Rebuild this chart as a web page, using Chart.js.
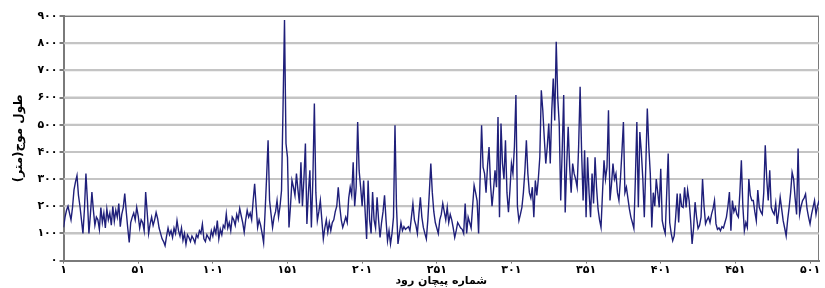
<!DOCTYPE html>
<html>
<head>
<meta charset="utf-8">
<script src="https://cdn.jsdelivr.net/npm/chart.js@4"></script>
<style>
html,body{margin:0;padding:0;background:#fff;}
#wrap{width:825px;height:288px;}
</style>
</head>
<body>
<div id="wrap"><canvas id="c" width="825" height="288"></canvas></div>
<script>
// Meander wavelength (m) for each meander number 1..507
const wavelength = [
122,160,185,200,175,150,195,260,290,313,
240,200,150,100,190,320,220,100,170,252,
185,130,160,150,115,195,140,175,120,190,
150,175,130,200,145,185,160,210,125,170,
195,247,180,120,67,140,160,175,150,196,
165,120,150,140,110,252,180,100,135,160,
130,150,177,155,120,100,80,70,55,90,
120,95,110,85,120,100,147,110,90,120,
75,100,60,95,85,70,90,80,65,95,
85,110,100,134,80,70,95,85,75,110,
90,120,100,147,80,115,95,130,120,172,
120,140,110,160,150,130,170,150,192,165,
140,105,150,185,160,175,150,220,283,200,
122,150,130,100,66,180,306,443,221,170,
122,160,180,221,160,200,258,560,885,431,
380,122,200,295,270,240,320,260,210,362,
200,300,431,135,250,332,122,300,578,250,
147,180,221,150,80,120,150,105,140,110,
140,150,180,200,270,200,150,122,140,160,
140,230,270,240,362,200,270,510,330,270,
200,295,180,80,295,150,100,252,150,120,
233,150,85,140,180,240,150,73,110,61,
100,160,498,200,61,100,140,110,125,115,
120,125,110,160,210,150,130,100,170,233,
160,122,100,80,150,250,357,250,180,140,
120,100,150,170,210,180,150,196,140,170,
150,120,85,110,140,130,120,115,100,210,
100,160,140,120,200,277,250,220,100,300,
498,344,320,250,350,418,280,200,260,332,
270,528,160,504,357,300,443,250,178,260,
357,320,420,609,200,147,170,196,250,330,
443,320,250,230,270,160,295,240,300,380,
627,553,450,357,420,504,357,550,670,516,
805,600,504,221,406,609,177,350,492,344,
250,357,320,300,270,420,640,400,221,406,
160,380,250,160,320,210,380,270,190,150,
122,250,369,300,344,553,221,280,357,300,
320,250,221,300,400,510,250,270,230,190,
160,140,118,300,510,196,473,400,300,160,
350,560,420,320,122,250,200,300,250,196,
338,147,120,100,250,394,140,100,73,91,
160,247,140,247,200,196,270,196,260,221,
150,61,120,215,160,118,130,160,300,200,
135,150,160,140,170,190,221,135,115,120,
110,125,120,140,160,200,252,110,221,180,
196,170,160,250,369,200,110,140,122,300,
240,221,221,180,147,260,196,180,170,250,
424,300,221,332,196,180,170,210,135,180,
233,190,147,120,91,150,196,250,325,300,
230,170,412,170,200,221,230,245,190,160,
135,170,196,221,170,200,221
];
// meander numbers on the x axis start at 1 and step by 50
const firstMeander = 1;
const xTickStep = 50;
const yTickStep = 100;
const yMax = 900;
const gridValues = [100, 200, 300, 400, 500, 600, 700, 800, 900];
const xTitle = 'شماره پیچان رود';
const yTitle = 'طول موج(متر)';

const faDigits = '۰۱۲۳۴۵۶۷۸۹';
const toFa = n => String(n).replace(/\d/g, d => faDigits[+d]);

const xLast = wavelength.length - 1;
// x = zero-based offset from the first meander; labels add firstMeander back
const points = wavelength.map((v, i) => ({x: i, y: v}));

// horizontal reference lines at the y tick values, drawn through the library's scales
const gridSets = gridValues.map(v => ({
  data: [{x: 0, y: v}, {x: xLast, y: v}],
  borderColor: v >= yMax ? '#7a7a7a' : '#c4c4c4',
  borderWidth: 2,
  pointRadius: 0,
  tension: 0,
  fill: false,
  order: 2
}));
// right-hand frame edge
const rightEdge = {
  data: [{x: xLast, y: 0}, {x: xLast, y: yMax}],
  borderColor: '#7a7a7a',
  borderWidth: 2,
  pointRadius: 0,
  fill: false,
  order: 2
};

new Chart(document.getElementById('c'), {
  type: 'line',
  data: {
    datasets: [{
      data: points,
      borderColor: '#1f1f7a',
      borderWidth: 1.4,
      pointRadius: 0,
      tension: 0,
      fill: false,
      order: 0
    }].concat(gridSets, [rightEdge])
  },
  options: {
    responsive: false,
    animation: false,
    layout: {padding: {top: 16, right: 6, left: 12, bottom: 0}},
    plugins: {legend: {display: false}, tooltip: {enabled: false}},
    scales: {
      x: {
        type: 'linear',
        min: 0,
        max: xLast,
        ticks: {
          stepSize: xTickStep,
          includeBounds: false,
          autoSkip: false,
          maxRotation: 0,
          padding: 0,
          color: '#000',
          font: {family: 'DejaVu Sans', size: 11, weight: 'bold'},
          callback: v => toFa(v + firstMeander)
        },
        grid: {drawOnChartArea: false, tickLength: 3, color: '#7a7a7a', lineWidth: 1},
        border: {color: '#7a7a7a', width: 2},
        title: {
          display: true,
          text: xTitle,
          color: '#000',
          padding: {top: -2, bottom: 0},
          font: {family: 'DejaVu Sans', size: 11, weight: 'bold'}
        }
      },
      y: {
        type: 'linear',
        min: 0,
        max: yMax,
        ticks: {
          stepSize: yTickStep,
          padding: 2,
          color: '#000',
          font: {family: 'DejaVu Sans', size: 11, weight: 'bold'},
          callback: v => toFa(v)
        },
        grid: {tickLength: 4, lineWidth: 2, color: '#c4c4c4', tickColor: '#7a7a7a'},
        border: {color: '#7a7a7a', width: 2},
        title: {
          display: true,
          text: yTitle,
          color: '#000',
          padding: {top: 0, bottom: 9},
          font: {family: 'DejaVu Sans', size: 12, weight: 'bold'}
        }
      }
    }
  }
});
</script>
</body>
</html>
